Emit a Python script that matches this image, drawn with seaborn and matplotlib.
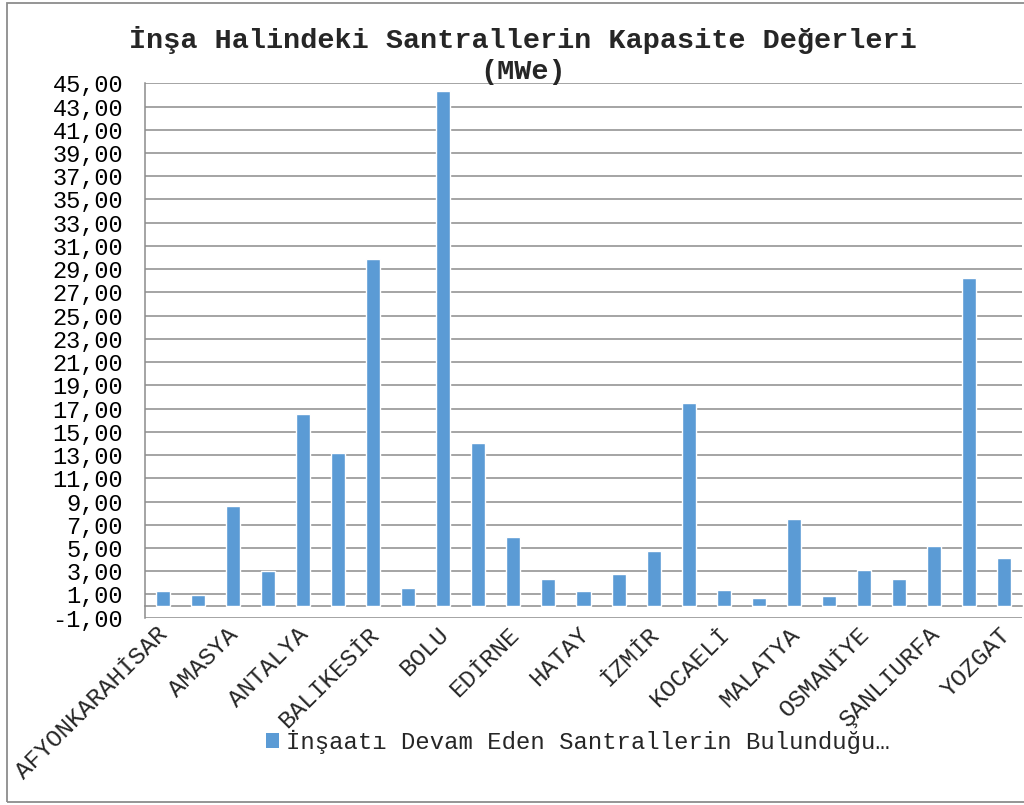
import numpy as np
import pandas as pd
import matplotlib
matplotlib.use("Agg")
import matplotlib.pyplot as plt
from matplotlib.patches import Rectangle, Patch
from matplotlib.ticker import FuncFormatter
from matplotlib.transforms import ScaledTranslation
import seaborn as sns

# Provinces with power plants under construction and their capacity (MWe)
provinces = [
    "AFYONKARAHİSAR", "AKSARAY", "AMASYA", "ANKARA", "ANTALYA", "AYDIN",
    "BALIKESİR", "BİLECİK", "BOLU", "DENİZLİ", "EDİRNE", "ERZURUM",
    "HATAY", "İSTANBUL", "İZMİR", "KAYSERİ", "KOCAELİ", "KONYA",
    "MALATYA", "MANİSA", "OSMANİYE", "SAMSUN", "ŞANLIURFA", "TOKAT", "YOZGAT",
]
capacity_mwe = [
    1.31, 0.97, 8.59, 3.02, 16.50, 13.14, 29.90, 1.57, 44.30, 14.05, 5.91, 2.34,
    1.31, 2.77, 4.71, 17.48, 1.42, 0.71, 7.51, 0.86, 3.08, 2.34, 5.14, 28.20, 4.16,
]
# Only every second category name fits under the axis
label_positions = list(range(0, len(provinces), 2))
shown_labels = [provinces[i] for i in label_positions]

title_line1 = "İnşa Halindeki Santrallerin Kapasite Değerleri"
title_line2 = "(MWe)"
series_name = "İnşaatı Devam Eden Santrallerin Bulunduğu…"

y_min, y_max, y_step = -1, 45, 2

BAR_COLOR = "#5B9BD5"
GRID_COLOR = "#8C8C8C"

sns.set_style("white")
plt.rcParams["font.family"] = ["Liberation Mono", "DejaVu Sans Mono", "DejaVu Sans"]

W, H = 1024, 805
fig = plt.figure(figsize=(W / 100, H / 100), dpi=100)
ax = fig.add_axes([145 / W, 1 - 617.7 / H, (1022 - 145) / W, (617.7 - 83.3) / H])

df = pd.DataFrame({"il": provinces, "kapasite": capacity_mwe})
sns.barplot(data=df, x="il", y="kapasite", color=BAR_COLOR, saturation=1,
            width=0.4, ax=ax, zorder=3)

ax.set_xlim(-0.5, len(provinces) - 0.5)
ax.set_ylim(y_min, y_max)
ax.set_yticks(np.arange(y_min, y_max + 1, y_step))
ax.yaxis.set_major_formatter(FuncFormatter(lambda v, _: f"{v:.2f}".replace(".", ",")))
ax.set_xlabel("")
ax.set_ylabel("")

# Horizontal gridlines
ax.yaxis.grid(True, color=GRID_COLOR, linewidth=1.1, zorder=0)
ax.xaxis.grid(False)
ax.set_axisbelow(True)

# Axes lines: value axis on the left, category axis crossing at zero
for side in ("top", "right"):
    ax.spines[side].set_visible(False)
ax.spines["left"].set_color(GRID_COLOR)
ax.spines["left"].set_linewidth(1.1)
ax.spines["bottom"].set_position(("data", 0))
ax.spines["bottom"].set_color(GRID_COLOR)
ax.spines["bottom"].set_linewidth(1.1)

ax.tick_params(axis="y", direction="out", length=4.3, width=1.1, color=GRID_COLOR,
               labelsize=17, pad=11.5, labelcolor="#000000")

# Category labels (every other) and boundary tick marks
ax.set_xticks(label_positions)
ax.set_xticklabels(shown_labels, rotation=45, ha="right", va="top",
                   rotation_mode="anchor", fontsize=17.6)
ax.tick_params(axis="x", which="major", length=0, pad=12)
shift = ScaledTranslation(-6 / 100, 0, fig.dpi_scale_trans)
for lbl in ax.get_xticklabels():
    lbl.set_transform(lbl.get_transform() + shift)
ax.set_xticks(np.arange(0.5, len(provinces) - 0.5, 1), minor=True)
ax.tick_params(axis="x", which="minor", direction="out", length=3.6, width=1.1,
               color=GRID_COLOR)

# Title
fig.text(523 / W, 1 - 40 / H, title_line1, ha="center", va="center",
         fontsize=20.5, fontweight="bold")
fig.text(523 / W, 1 - 72 / H, title_line2, ha="center", va="center",
         fontsize=20.5, fontweight="bold")

# Legend below the plot
handle = Patch(facecolor=BAR_COLOR, edgecolor="none", label=series_name)
fig.legend(handles=[handle], loc="center", bbox_to_anchor=(578 / W, 1 - 742 / H),
           frameon=False, fontsize=17.2, handlelength=0.55, handleheight=0.55,
           handletextpad=0.3)

# Chart frame (its right side runs past the canvas edge)
frame = Rectangle((7 / W, 1 - 802 / H), (1040 - 7) / W, (802 - 3) / H,
                  transform=fig.transFigure, fill=False,
                  edgecolor=GRID_COLOR, linewidth=1.3, zorder=-1)
fig.patches.append(frame)

fig.savefig("out.png", dpi=100, facecolor="white")
